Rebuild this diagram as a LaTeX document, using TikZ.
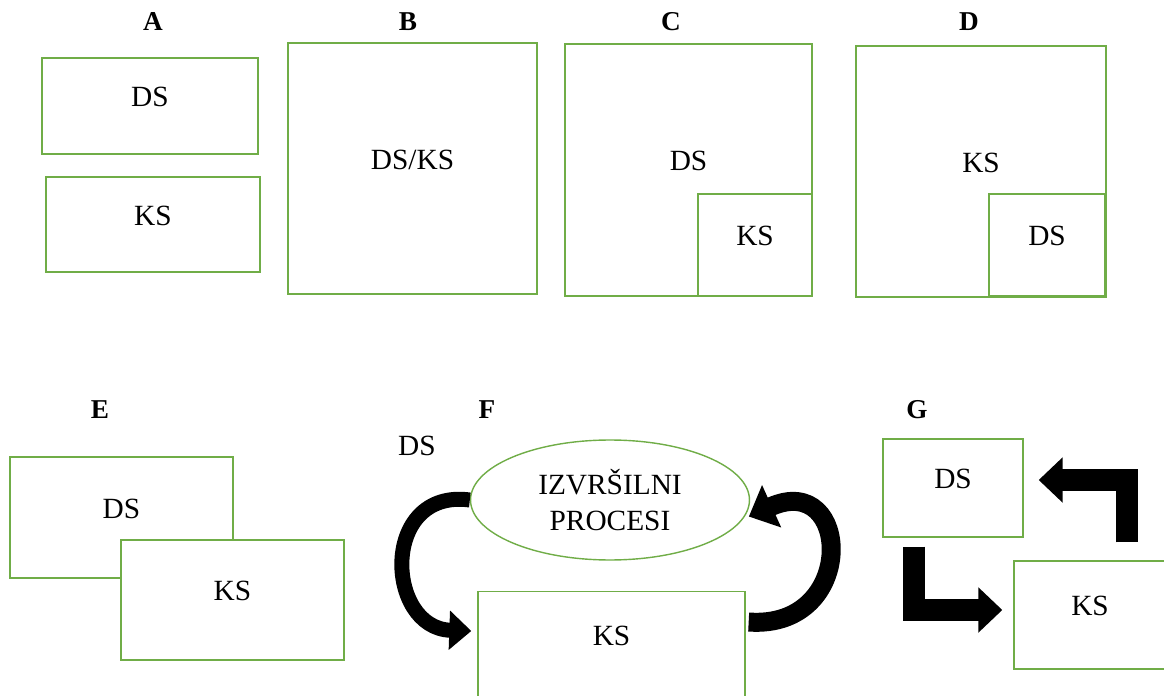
\documentclass[tikz,border=0pt]{standalone}
\usepackage{fontspec}
\setmainfont{Liberation Serif}
\usetikzlibrary{arrows.meta,shapes.geometric}
\definecolor{boxgreen}{RGB}{112,173,71}
\tikzset{
  frame/.style={draw=boxgreen,line width=0.8pt,fill=white,font=\fontsize{16.7}{20.4}\selectfont},
  box/.style={frame,rectangle,text depth=0.36cm},
  tag/.style={font=\fontsize{15.5}{18}\selectfont\bfseries},
  plain/.style={font=\fontsize{16.7}{20}\selectfont},
  curvearrow/.style={line width=0.3cm,-{Triangle[length=0.44cm,width=0.76cm]}},
  elbowarrow/.style={line width=0.44cm,line join=miter,-{Triangle[length=0.48cm,width=0.88cm]}}
}
\begin{document}
\begin{tikzpicture}[x=0.02cm,y=-0.02cm]
\useasboundingbox (0,0) rectangle (1164,696);
\node[tag] (labA) at (153,22) {A};
\node[tag] (labB) at (408,22) {B};
\node[tag] (labC) at (671,22) {C};
\node[tag] (labD) at (969,22) {D};
\node[tag] (labE) at (100,410) {E};
\node[tag] (labF) at (487,410) {F};
\node[tag] (labG) at (917,410) {G};
\node[box,minimum width=4.32cm,minimum height=1.92cm] (aDS) at (150,106) {DS};
\node[box,minimum width=4.28cm,minimum height=1.9cm] (aKS) at (153,224.5) {KS};
\node[box,minimum width=4.98cm,minimum height=5.02cm] (bDSKS) at (412.5,168.5) {DS/KS};
\node[box,minimum width=4.94cm,minimum height=5.04cm] (cDS) at (688.5,170) {DS};
\node[box,minimum width=2.28cm,minimum height=2.04cm] (cKS) at (755,245) {KS};
\node[box,minimum width=5cm,minimum height=5.02cm] (dKS) at (981,171.5) {KS};
\node[box,minimum width=2.32cm,minimum height=2.04cm] (dDS) at (1047,245) {DS};
\node[box,minimum width=4.46cm,minimum height=2.42cm] (eDS) at (121.5,517.5) {DS};
\node[box,minimum width=4.46cm,minimum height=2.4cm] (eKS) at (232.5,600) {KS};
\node[plain] (fDS) at (417,446) {DS};
\node[frame,ellipse,minimum width=5.58cm,minimum height=2.4cm,align=center] (fProc) at (610,500) {IZVRŠILNI\\PROCESI};
\node[box,anchor=north,minimum width=5.34cm,minimum height=2.4cm,text depth=0.64cm] (fKS) at (611.5,591) {KS};
\node[box,minimum width=2.8cm,minimum height=1.96cm] (gDS) at (953,488) {DS};
\node[box,minimum width=3.04cm,minimum height=2.16cm] (gKS) at (1090,615) {KS};
\draw[curvearrow] (fProc.west) .. controls (380,488) and (385,628) .. ([shift={(-6,40)}]fKS.north west);
\draw[curvearrow,line width=0.38cm,-{Triangle[length=0.5cm,width=0.9cm]}] ([shift={(3,31)}]fKS.north east) .. controls (858,630) and (852,470) .. ([shift={(4,0)}]fProc.-7);
\draw[elbowarrow] ([shift={(37,-18)}]gKS.north) |- ([shift={(15,-8)}]gDS.east);
\draw[elbowarrow] ([shift={(-39,9)}]gDS.south) |- ([shift={(-11,-5)}]gKS.west);
\end{tikzpicture}
\end{document}
